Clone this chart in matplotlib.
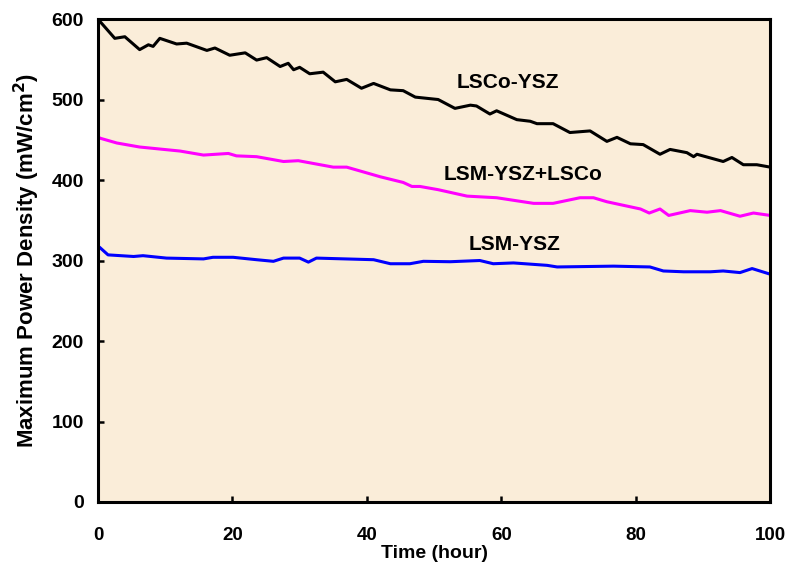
import numpy as np
import matplotlib.pyplot as plt

plt.rcParams['font.family'] = ['Liberation Sans', 'DejaVu Sans']
plt.rcParams['font.weight'] = 'bold'

# LSCo-YSZ cathode
t_lsco = [0, 0.3, 2.5, 4, 6.2, 7.5, 8.2, 9.2, 11.7, 13.2, 16.2, 17.4, 19.6, 21.9, 23.6,
          25.1, 27.1, 28.3, 29.1, 30, 31.5, 33.5, 35.3, 37, 39.2, 41, 43.5, 45.4, 47.2,
          50.6, 53.1, 55.4, 56.3, 58.3, 59.3, 62.3, 64.3, 65.3, 67.7, 70.2, 73.2, 75.7,
          77.2, 79.2, 81.1, 83.6, 85.1, 87.6, 88.6, 89.1, 93, 94.3, 96, 98, 100]
p_lsco = [600, 597, 576, 578, 562, 568, 566, 576, 569, 570, 561, 564, 555, 558, 549,
          552, 541, 545, 537, 540, 532, 534, 522, 525, 514, 520, 512, 511, 503,
          500, 489, 493, 492, 482, 486, 475, 473, 470, 470, 459, 461, 448,
          453, 445, 444, 432, 438, 434, 429, 432, 423, 428, 419, 419, 416]

# LSM-YSZ + LSCo cathode
t_mix = [0, 0.3, 2.8, 6.2, 12.2, 15.7, 19.4, 20.6, 23.6, 27.6, 29.8, 35, 37, 42, 45.4,
         46.7, 47.9, 50.6, 54.9, 59.3, 64.8, 67.7, 71.7, 73.7, 75.7, 80.7, 82, 83.6,
         84.9, 88.1, 90.6, 92.6, 95.5, 97.5, 100]
p_mix = [454, 452, 446, 441, 436, 431, 433, 430, 429, 423, 424, 416, 416, 404, 397,
         392, 392, 388, 380, 378, 371, 371, 378, 378, 373, 364, 359, 364,
         356, 362, 360, 362, 355, 359, 356]

# LSM-YSZ cathode
t_lsm = [0, 0.3, 1.5, 5.3, 6.7, 10.2, 15.7, 17.1, 20.1, 23.6, 26.1, 27.6, 30, 31.3, 32.5,
         41, 43.5, 46.4, 48.4, 52.4, 56.8, 58.8, 61.8, 66.8, 68.3, 76.7, 82.1, 84.1,
         87.1, 91.1, 93, 95.5, 97.3, 100]
p_lsm = [318, 316, 307, 305, 306, 303, 302, 304, 304, 301, 299, 303, 303, 298, 303,
         301, 296, 296, 299, 298.5, 300, 296, 297, 294, 292, 293, 292, 287,
         286, 286, 287, 285, 290, 283]

labels = ['LSCo-YSZ', 'LSM-YSZ+LSCo', 'LSM-YSZ']
label_pos = [(60.9, 521), (63.2, 407), (61.9, 320)]

fig = plt.figure(figsize=(7.9, 5.68), dpi=100)
ax = fig.add_axes([0.124, 0.1162, 0.851, 0.8503])
ax.set_facecolor('#FAEDD9')

ax.plot(t_lsco, p_lsco, color='black', lw=2.2)
ax.plot(t_mix, p_mix, color='#FF00FF', lw=2.2)
ax.plot(t_lsm, p_lsm, color='#0000FF', lw=2.2)

for text, (x, y) in zip(labels, label_pos):
    ax.text(x, y, text, ha='center', va='center', fontsize=15, fontweight='bold')

ax.set_xlim(0, 100)
ax.set_ylim(0, 600)
ax.set_xticks(np.arange(0, 101, 20))
ax.set_yticks(np.arange(0, 601, 100))
ax.tick_params(direction='in', length=4, width=1.8, top=False, right=False)
ax.tick_params(axis='x', pad=18, labelsize=13.5)
ax.tick_params(axis='y', pad=10, labelsize=14)
for s in ax.spines.values():
    s.set_linewidth(2.2)

ax.set_xlabel('Time (hour)', fontsize=14, fontweight='bold', labelpad=1)
ax.set_ylabel('Maximum Power Density (mW/cm$^\\mathbf{2}$)', fontsize=16,
              fontweight='bold', labelpad=7)

fig.savefig('out.png', dpi=100)
